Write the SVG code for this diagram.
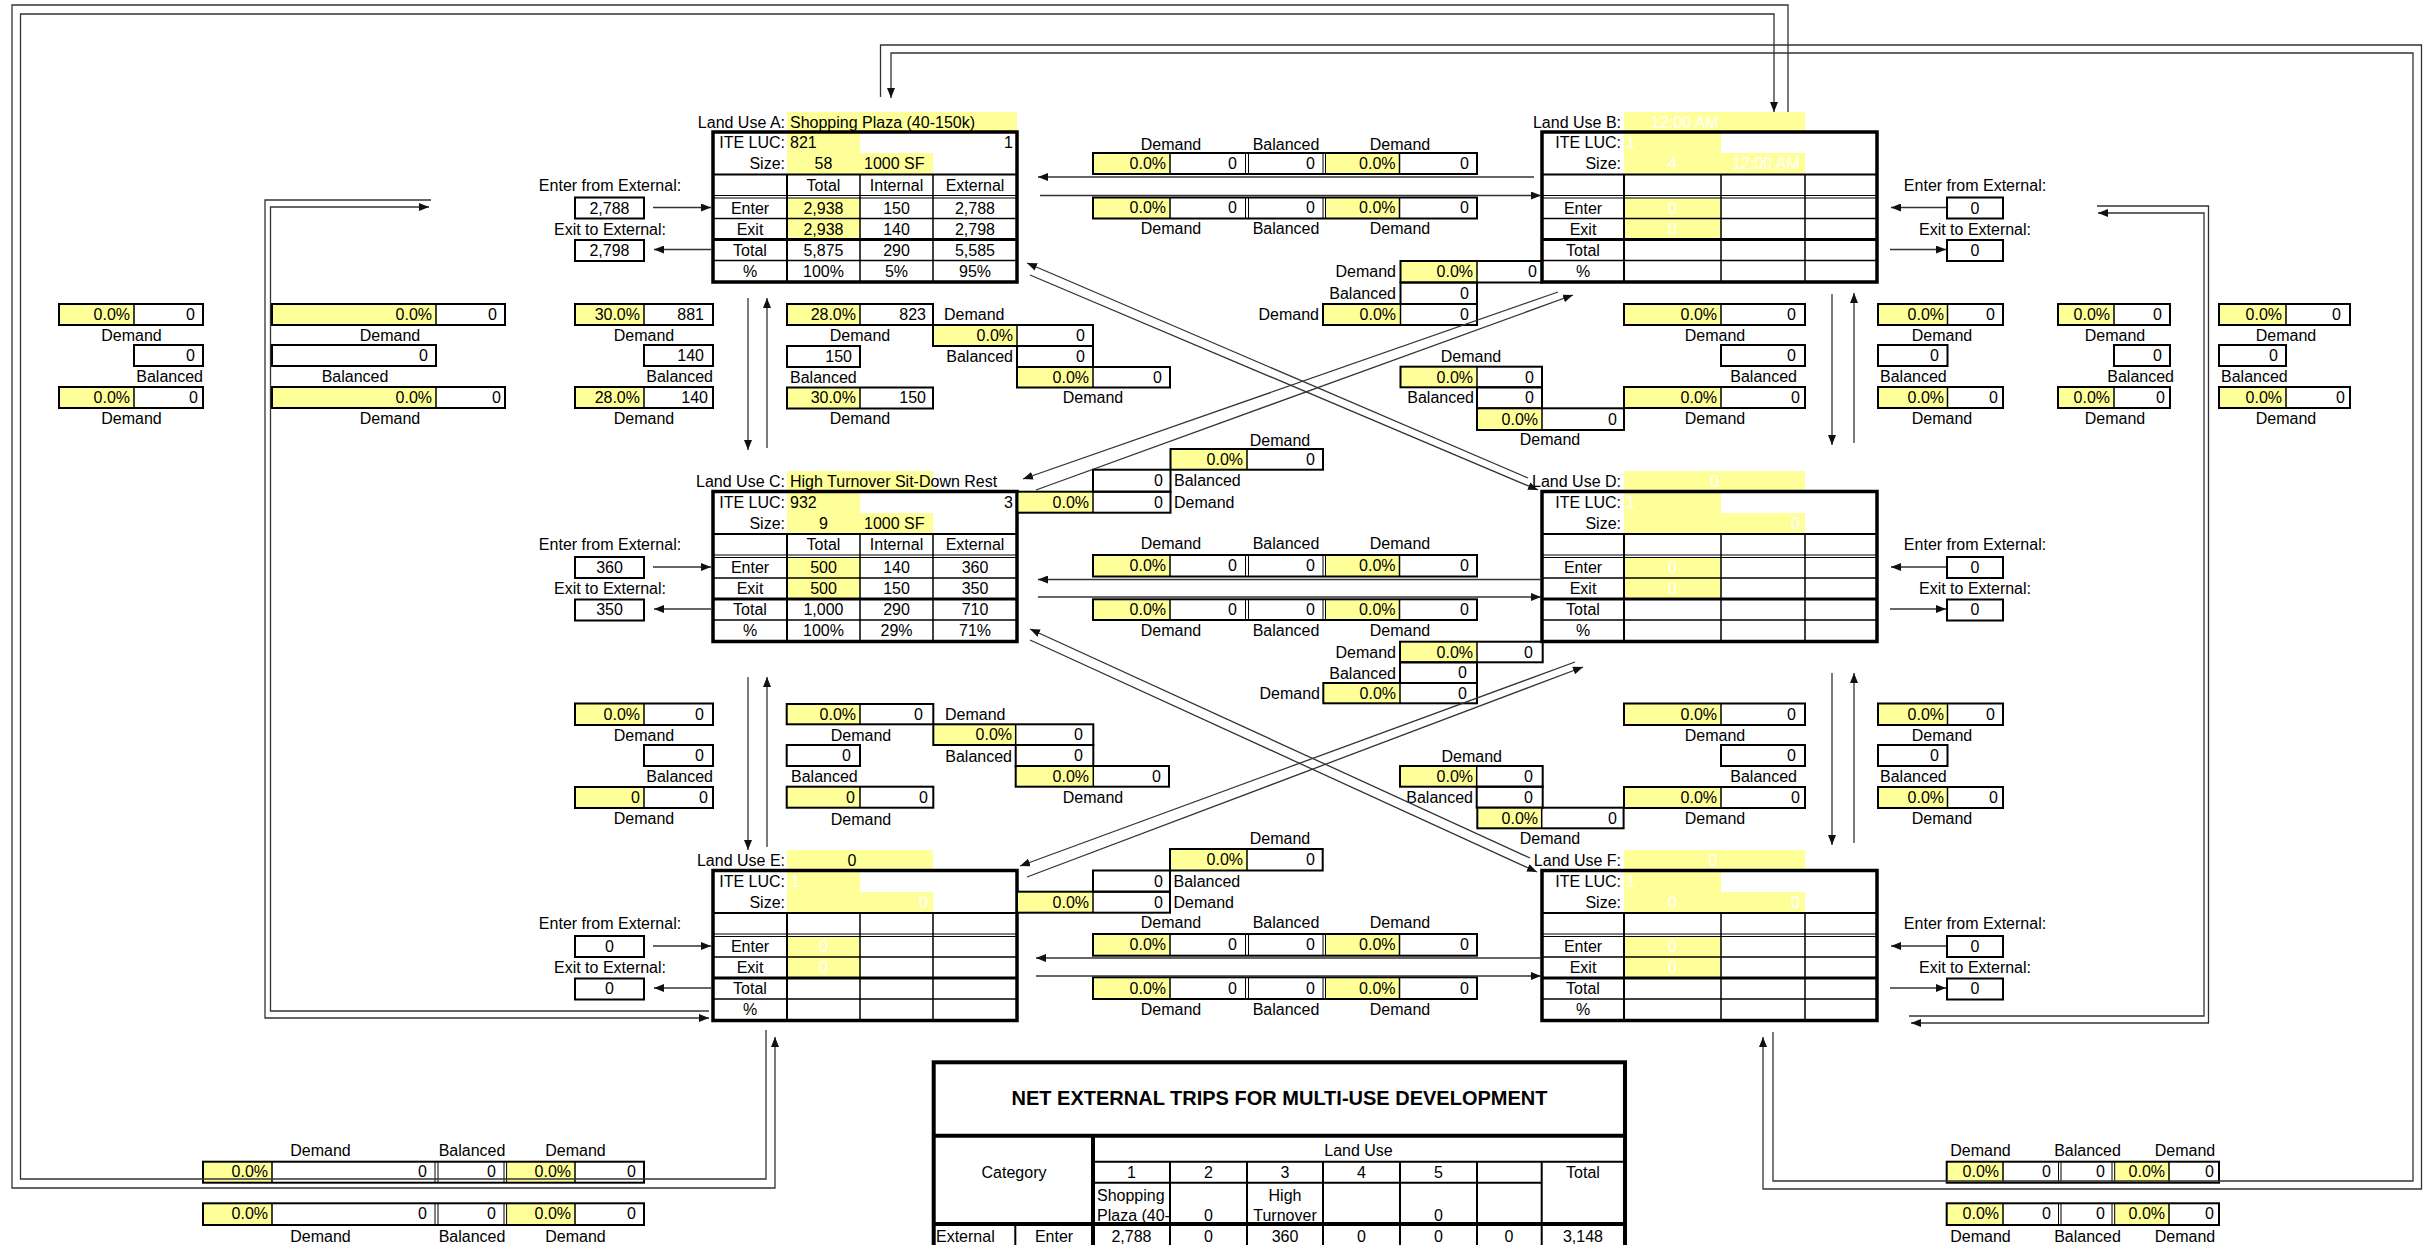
<svg xmlns="http://www.w3.org/2000/svg" width="2426" height="1245" viewBox="0 0 2426 1245">
<defs>
<marker id="ah" viewBox="0 0 10 8" refX="10" refY="4" markerWidth="10" markerHeight="8" markerUnits="userSpaceOnUse" orient="auto"><path d="M0,0 L10,4 L0,8 z" fill="#111"/></marker>
<clipPath id="clipShop"><rect x="1093" y="1183" width="77" height="41"/></clipPath>
</defs>
<style>
text{font-family:'Liberation Sans',Arial,Helvetica,sans-serif;font-size:16px;fill:#000}
.m{text-anchor:middle}
.e{text-anchor:end}
.w{fill:#fff}
.y{fill:#ffff99}
.bx{fill:none;stroke:#000;stroke-width:2}
.ln{stroke:#000;stroke-width:1.5}
.dl{stroke:#000;stroke-width:1}
.ol{fill:none;stroke:#000;stroke-width:3.5}
.l2{stroke:#000;stroke-width:2}
.l3{stroke:#000;stroke-width:3}
.l4{stroke:#000;stroke-width:4}
.cn{fill:none;stroke:#333;stroke-width:1.3}
.ar{marker-end:url(#ah)}
.ttl{font-weight:bold;font-size:20px}
</style>
<rect width="2426" height="1245" fill="#fff"/>

<!-- ================= LAND USE TABLES ================= -->
<g id="landuse-A">
<rect class="y" x="787" y="112" width="230" height="20"/>
<rect class="y" x="787" y="133" width="73" height="20"/>
<rect class="y" x="787" y="153" width="146" height="21"/>
<rect class="y" x="787" y="198" width="73" height="41"/>
<rect class="ol" x="713" y="132" width="304" height="150"/>
<line class="l2" x1="713" y1="174.5" x2="1017" y2="174.5"/>
<line class="l2" x1="787" y1="174.5" x2="787" y2="282"/>
<line class="ln" x1="860" y1="174.5" x2="860" y2="282"/>
<line class="ln" x1="933" y1="174.5" x2="933" y2="282"/>
<line class="dl" x1="713" y1="195.5" x2="1017" y2="195.5"/>
<line class="dl" x1="713" y1="198" x2="1017" y2="198"/>
<line class="ln" x1="713" y1="218.5" x2="1017" y2="218.5"/>
<line class="l3" x1="713" y1="239.5" x2="1017" y2="239.5"/>
<line class="ln" x1="713" y1="260.5" x2="1017" y2="260.5"/>
<text class="e" x="785" y="127.5">Land Use A:</text>
<text x="790" y="127.5">Shopping Plaza (40-150k)</text>
<text class="e" x="785" y="148">ITE LUC:</text><text x="790" y="148">821</text><text class="e" x="1013" y="148">1</text>
<text class="e" x="785" y="169">Size:</text><text class="m" x="823.5" y="169">58</text><text x="864" y="169">1000 SF</text>
<text class="m" x="823.5" y="190.5">Total</text><text class="m" x="896.5" y="190.5">Internal</text><text class="m" x="975" y="190.5">External</text>
<text class="m" x="750" y="213.5">Enter</text><text class="m" x="823.5" y="213.5">2,938</text><text class="m" x="896.5" y="213.5">150</text><text class="m" x="975" y="213.5">2,788</text>
<text class="m" x="750" y="234.5">Exit</text><text class="m" x="823.5" y="234.5">2,938</text><text class="m" x="896.5" y="234.5">140</text><text class="m" x="975" y="234.5">2,798</text>
<text class="m" x="750" y="255.5">Total</text><text class="m" x="823.5" y="255.5">5,875</text><text class="m" x="896.5" y="255.5">290</text><text class="m" x="975" y="255.5">5,585</text>
<text class="m" x="750" y="276.5">%</text><text class="m" x="823.5" y="276.5">100%</text><text class="m" x="896.5" y="276.5">5%</text><text class="m" x="975" y="276.5">95%</text>
<text class="m" x="610" y="190.5">Enter from External:</text>
<rect class="bx" x="575" y="197.5" width="69" height="21"/><text class="m" x="609.5" y="213.5">2,788</text>
<text class="m" x="610" y="234.5">Exit to External:</text>
<rect class="bx" x="575" y="240" width="69" height="21"/><text class="m" x="609.5" y="255.5">2,798</text>
</g>

<g id="landuse-B">
<rect class="y" x="1624" y="112" width="181" height="20"/>
<rect class="y" x="1624" y="133" width="97" height="20"/>
<rect class="y" x="1624" y="153" width="181" height="21"/>
<rect class="y" x="1624" y="198" width="97" height="41"/>
<rect class="ol" x="1542" y="132" width="335" height="150"/>
<line class="l2" x1="1542" y1="174.5" x2="1877" y2="174.5"/>
<line class="l2" x1="1624" y1="174.5" x2="1624" y2="282"/>
<line class="ln" x1="1721" y1="174.5" x2="1721" y2="282"/>
<line class="ln" x1="1805" y1="174.5" x2="1805" y2="282"/>
<line class="dl" x1="1542" y1="195.5" x2="1877" y2="195.5"/>
<line class="dl" x1="1542" y1="198" x2="1877" y2="198"/>
<line class="ln" x1="1542" y1="218.5" x2="1877" y2="218.5"/>
<line class="l3" x1="1542" y1="239.5" x2="1877" y2="239.5"/>
<line class="ln" x1="1542" y1="260.5" x2="1877" y2="260.5"/>
<text class="e" x="1621" y="127.5">Land Use B:</text><text class="w" x="1651" y="127.5">12:00 AM</text>
<text class="e" x="1621" y="148">ITE LUC:</text><text class="w" x="1626" y="148">1</text>
<text class="e" x="1621" y="169">Size:</text><text class="m w" x="1672.5" y="169">4</text><text class="m w" x="1766" y="169">12:00 AM</text>
<text class="m" x="1583" y="213.5">Enter</text><text class="m w" x="1672.5" y="213.5">0</text>
<text class="m" x="1583" y="234.5">Exit</text><text class="m w" x="1672.5" y="234.5">0</text>
<text class="m" x="1583" y="255.5">Total</text>
<text class="m" x="1583" y="276.5">%</text>
<text class="m" x="1975" y="190.5">Enter from External:</text>
<rect class="bx" x="1947" y="197.5" width="56" height="21"/><text class="m" x="1975" y="213.5">0</text>
<text class="m" x="1975" y="234.5">Exit to External:</text>
<rect class="bx" x="1947" y="240" width="56" height="21"/><text class="m" x="1975" y="255.5">0</text>
</g>

<g id="landuse-C">
<rect class="y" x="787" y="471" width="146" height="20.5"/>
<rect class="y" x="787" y="492.5" width="73" height="20.5"/>
<rect class="y" x="787" y="513" width="146" height="21"/>
<rect class="y" x="787" y="557.5" width="73" height="41"/>
<rect class="ol" x="713" y="491.5" width="304" height="150"/>
<line class="l2" x1="713" y1="534" x2="1017" y2="534"/>
<line class="l2" x1="787" y1="534" x2="787" y2="641.5"/>
<line class="ln" x1="860" y1="534" x2="860" y2="641.5"/>
<line class="ln" x1="933" y1="534" x2="933" y2="641.5"/>
<line class="dl" x1="713" y1="555" x2="1017" y2="555"/>
<line class="dl" x1="713" y1="557.5" x2="1017" y2="557.5"/>
<line class="ln" x1="713" y1="578" x2="1017" y2="578"/>
<line class="l3" x1="713" y1="599" x2="1017" y2="599"/>
<line class="ln" x1="713" y1="620" x2="1017" y2="620"/>
<text class="e" x="785" y="487">Land Use C:</text><text x="790" y="487">High Turnover Sit-Down Rest</text>
<text class="e" x="785" y="507.5">ITE LUC:</text><text x="790" y="507.5">932</text><text class="e" x="1013" y="507.5">3</text>
<text class="e" x="785" y="528.5">Size:</text><text class="m" x="823.5" y="528.5">9</text><text x="864" y="528.5">1000 SF</text>
<text class="m" x="823.5" y="550">Total</text><text class="m" x="896.5" y="550">Internal</text><text class="m" x="975" y="550">External</text>
<text class="m" x="750" y="573">Enter</text><text class="m" x="823.5" y="573">500</text><text class="m" x="896.5" y="573">140</text><text class="m" x="975" y="573">360</text>
<text class="m" x="750" y="594">Exit</text><text class="m" x="823.5" y="594">500</text><text class="m" x="896.5" y="594">150</text><text class="m" x="975" y="594">350</text>
<text class="m" x="750" y="615">Total</text><text class="m" x="823.5" y="615">1,000</text><text class="m" x="896.5" y="615">290</text><text class="m" x="975" y="615">710</text>
<text class="m" x="750" y="636">%</text><text class="m" x="823.5" y="636">100%</text><text class="m" x="896.5" y="636">29%</text><text class="m" x="975" y="636">71%</text>
<text class="m" x="610" y="550">Enter from External:</text>
<rect class="bx" x="575" y="557" width="69" height="21"/><text class="m" x="609.5" y="573">360</text>
<text class="m" x="610" y="594">Exit to External:</text>
<rect class="bx" x="575" y="599.5" width="69" height="21"/><text class="m" x="609.5" y="615">350</text>
</g>

<g id="landuse-D">
<rect class="y" x="1624" y="471" width="181" height="20.5"/>
<rect class="y" x="1624" y="492.5" width="97" height="20.5"/>
<rect class="y" x="1624" y="513" width="181" height="21"/>
<rect class="y" x="1624" y="557.5" width="97" height="41"/>
<rect class="ol" x="1542" y="491.5" width="335" height="150"/>
<line class="l2" x1="1542" y1="534" x2="1877" y2="534"/>
<line class="l2" x1="1624" y1="534" x2="1624" y2="641.5"/>
<line class="ln" x1="1721" y1="534" x2="1721" y2="641.5"/>
<line class="ln" x1="1805" y1="534" x2="1805" y2="641.5"/>
<line class="dl" x1="1542" y1="555" x2="1877" y2="555"/>
<line class="dl" x1="1542" y1="557.5" x2="1877" y2="557.5"/>
<line class="ln" x1="1542" y1="578" x2="1877" y2="578"/>
<line class="l3" x1="1542" y1="599" x2="1877" y2="599"/>
<line class="ln" x1="1542" y1="620" x2="1877" y2="620"/>
<text class="e" x="1621" y="487">Land Use D:</text><text class="m w" x="1714.5" y="487">0</text>
<text class="e" x="1621" y="507.5">ITE LUC:</text><text class="w" x="1626" y="507.5">1</text>
<text class="e" x="1621" y="528.5">Size:</text><text class="e w" x="1800" y="528.5">0</text>
<text class="m" x="1583" y="573">Enter</text><text class="m w" x="1672.5" y="573">0</text>
<text class="m" x="1583" y="594">Exit</text><text class="m w" x="1672.5" y="594">0</text>
<text class="m" x="1583" y="615">Total</text>
<text class="m" x="1583" y="636">%</text>
<text class="m" x="1975" y="550">Enter from External:</text>
<rect class="bx" x="1947" y="557" width="56" height="21"/><text class="m" x="1975" y="573">0</text>
<text class="m" x="1975" y="594">Exit to External:</text>
<rect class="bx" x="1947" y="599.5" width="56" height="21"/><text class="m" x="1975" y="615">0</text>
</g>

<g id="landuse-E">
<rect class="y" x="787" y="850" width="146" height="20.5"/>
<rect class="y" x="787" y="871.5" width="73" height="20.5"/>
<rect class="y" x="787" y="892" width="146" height="21"/>
<rect class="y" x="787" y="936.5" width="73" height="41"/>
<rect class="ol" x="713" y="870.5" width="304" height="150"/>
<line class="l2" x1="713" y1="913" x2="1017" y2="913"/>
<line class="l2" x1="787" y1="913" x2="787" y2="1020.5"/>
<line class="ln" x1="860" y1="913" x2="860" y2="1020.5"/>
<line class="ln" x1="933" y1="913" x2="933" y2="1020.5"/>
<line class="dl" x1="713" y1="934" x2="1017" y2="934"/>
<line class="dl" x1="713" y1="936.5" x2="1017" y2="936.5"/>
<line class="ln" x1="713" y1="957" x2="1017" y2="957"/>
<line class="l3" x1="713" y1="978" x2="1017" y2="978"/>
<line class="ln" x1="713" y1="999" x2="1017" y2="999"/>
<text class="e" x="785" y="866">Land Use E:</text><text class="m" x="852" y="866">0</text>
<text class="e" x="785" y="886.5">ITE LUC:</text><text class="w" x="791" y="886.5">1</text>
<text class="e" x="785" y="907.5">Size:</text><text class="e w" x="928" y="907.5">0</text>
<text class="m" x="750" y="952">Enter</text><text class="m w" x="823.5" y="952">0</text>
<text class="m" x="750" y="973">Exit</text><text class="m w" x="823.5" y="973">0</text>
<text class="m" x="750" y="994">Total</text>
<text class="m" x="750" y="1015">%</text>
<text class="m" x="610" y="929">Enter from External:</text>
<rect class="bx" x="575" y="936" width="69" height="21"/><text class="m" x="609.5" y="952">0</text>
<text class="m" x="610" y="973">Exit to External:</text>
<rect class="bx" x="575" y="978.5" width="69" height="21"/><text class="m" x="609.5" y="994">0</text>
</g>

<g id="landuse-F">
<rect class="y" x="1624" y="850" width="181" height="20.5"/>
<rect class="y" x="1624" y="871.5" width="97" height="20.5"/>
<rect class="y" x="1624" y="892" width="181" height="21"/>
<rect class="y" x="1624" y="936.5" width="97" height="41"/>
<rect class="ol" x="1542" y="870.5" width="335" height="150"/>
<line class="l2" x1="1542" y1="913" x2="1877" y2="913"/>
<line class="l2" x1="1624" y1="913" x2="1624" y2="1020.5"/>
<line class="ln" x1="1721" y1="913" x2="1721" y2="1020.5"/>
<line class="ln" x1="1805" y1="913" x2="1805" y2="1020.5"/>
<line class="dl" x1="1542" y1="934" x2="1877" y2="934"/>
<line class="dl" x1="1542" y1="936.5" x2="1877" y2="936.5"/>
<line class="ln" x1="1542" y1="957" x2="1877" y2="957"/>
<line class="l3" x1="1542" y1="978" x2="1877" y2="978"/>
<line class="ln" x1="1542" y1="999" x2="1877" y2="999"/>
<text class="e" x="1621" y="866">Land Use F:</text><text class="m w" x="1713" y="866">0</text>
<text class="e" x="1621" y="886.5">ITE LUC:</text><text class="w" x="1626" y="886.5">1</text>
<text class="e" x="1621" y="907.5">Size:</text><text class="m w" x="1672.5" y="907.5">0</text><text class="e w" x="1800" y="907.5">0</text>
<text class="m" x="1583" y="952">Enter</text><text class="m w" x="1672.5" y="952">0</text>
<text class="m" x="1583" y="973">Exit</text><text class="m w" x="1672.5" y="973">0</text>
<text class="m" x="1583" y="994">Total</text>
<text class="m" x="1583" y="1015">%</text>
<text class="m" x="1975" y="929">Enter from External:</text>
<rect class="bx" x="1947" y="936" width="56" height="21"/><text class="m" x="1975" y="952">0</text>
<text class="m" x="1975" y="973">Exit to External:</text>
<rect class="bx" x="1947" y="978.5" width="56" height="21"/><text class="m" x="1975" y="994">0</text>
</g>

<!-- ================= HORIZONTAL PAIR GROUPS ================= -->
<g id="grp-AB">
<text class="m" x="1171" y="150">Demand</text><text class="m" x="1286" y="150">Balanced</text><text class="m" x="1400" y="150">Demand</text>
<rect class="y" x="1093" y="153" width="77" height="21"/><rect class="y" x="1325.5" y="153" width="74" height="21"/>
<rect class="bx" x="1093" y="153" width="384" height="21"/>
<line class="ln" x1="1170" y1="153" x2="1170" y2="174"/><line class="dl" x1="1245.5" y1="153" x2="1245.5" y2="174"/><line class="dl" x1="1248.5" y1="153" x2="1248.5" y2="174"/><line class="dl" x1="1323" y1="153" x2="1323" y2="174"/><line class="dl" x1="1325.5" y1="153" x2="1325.5" y2="174"/><line class="ln" x1="1399.5" y1="153" x2="1399.5" y2="174"/>
<text class="e" x="1166" y="168.5">0.0%</text><text class="e" x="1237" y="168.5">0</text><text class="e" x="1315" y="168.5">0</text><text class="e" x="1395.5" y="168.5">0.0%</text><text class="e" x="1469" y="168.5">0</text>
<rect class="y" x="1093" y="197.5" width="77" height="21"/><rect class="y" x="1325.5" y="197.5" width="74" height="21"/>
<rect class="bx" x="1093" y="197.5" width="384" height="21"/>
<line class="ln" x1="1170" y1="197.5" x2="1170" y2="218.5"/><line class="dl" x1="1245.5" y1="197.5" x2="1245.5" y2="218.5"/><line class="dl" x1="1248.5" y1="197.5" x2="1248.5" y2="218.5"/><line class="dl" x1="1323" y1="197.5" x2="1323" y2="218.5"/><line class="dl" x1="1325.5" y1="197.5" x2="1325.5" y2="218.5"/><line class="ln" x1="1399.5" y1="197.5" x2="1399.5" y2="218.5"/>
<text class="e" x="1166" y="213">0.0%</text><text class="e" x="1237" y="213">0</text><text class="e" x="1315" y="213">0</text><text class="e" x="1395.5" y="213">0.0%</text><text class="e" x="1469" y="213">0</text>
<text class="m" x="1171" y="234">Demand</text><text class="m" x="1286" y="234">Balanced</text><text class="m" x="1400" y="234">Demand</text>
</g>

<g id="grp-CD">
<text class="m" x="1171" y="549">Demand</text><text class="m" x="1286" y="549">Balanced</text><text class="m" x="1400" y="549">Demand</text>
<rect class="y" x="1093" y="555" width="77" height="21.5"/><rect class="y" x="1325.5" y="555" width="74" height="21.5"/>
<rect class="bx" x="1093" y="555" width="384" height="21.5"/>
<line class="ln" x1="1170" y1="555" x2="1170" y2="576.5"/><line class="dl" x1="1245.5" y1="555" x2="1245.5" y2="576.5"/><line class="dl" x1="1248.5" y1="555" x2="1248.5" y2="576.5"/><line class="dl" x1="1323" y1="555" x2="1323" y2="576.5"/><line class="dl" x1="1325.5" y1="555" x2="1325.5" y2="576.5"/><line class="ln" x1="1399.5" y1="555" x2="1399.5" y2="576.5"/>
<text class="e" x="1166" y="571">0.0%</text><text class="e" x="1237" y="571">0</text><text class="e" x="1315" y="571">0</text><text class="e" x="1395.5" y="571">0.0%</text><text class="e" x="1469" y="571">0</text>
<rect class="y" x="1093" y="599.3" width="77" height="20.7"/><rect class="y" x="1325.5" y="599.3" width="74" height="20.7"/>
<rect class="bx" x="1093" y="599.3" width="384" height="20.7"/>
<line class="ln" x1="1170" y1="599.3" x2="1170" y2="620"/><line class="dl" x1="1245.5" y1="599.3" x2="1245.5" y2="620"/><line class="dl" x1="1248.5" y1="599.3" x2="1248.5" y2="620"/><line class="dl" x1="1323" y1="599.3" x2="1323" y2="620"/><line class="dl" x1="1325.5" y1="599.3" x2="1325.5" y2="620"/><line class="ln" x1="1399.5" y1="599.3" x2="1399.5" y2="620"/>
<text class="e" x="1166" y="615">0.0%</text><text class="e" x="1237" y="615">0</text><text class="e" x="1315" y="615">0</text><text class="e" x="1395.5" y="615">0.0%</text><text class="e" x="1469" y="615">0</text>
<text class="m" x="1171" y="635.5">Demand</text><text class="m" x="1286" y="635.5">Balanced</text><text class="m" x="1400" y="635.5">Demand</text>
</g>

<g id="grp-EF">
<text class="m" x="1171" y="928">Demand</text><text class="m" x="1286" y="928">Balanced</text><text class="m" x="1400" y="928">Demand</text>
<rect class="y" x="1093" y="934" width="77" height="21.7"/><rect class="y" x="1325.5" y="934" width="74" height="21.7"/>
<rect class="bx" x="1093" y="934" width="384" height="21.7"/>
<line class="ln" x1="1170" y1="934" x2="1170" y2="955.7"/><line class="dl" x1="1245.5" y1="934" x2="1245.5" y2="955.7"/><line class="dl" x1="1248.5" y1="934" x2="1248.5" y2="955.7"/><line class="dl" x1="1323" y1="934" x2="1323" y2="955.7"/><line class="dl" x1="1325.5" y1="934" x2="1325.5" y2="955.7"/><line class="ln" x1="1399.5" y1="934" x2="1399.5" y2="955.7"/>
<text class="e" x="1166" y="950">0.0%</text><text class="e" x="1237" y="950">0</text><text class="e" x="1315" y="950">0</text><text class="e" x="1395.5" y="950">0.0%</text><text class="e" x="1469" y="950">0</text>
<rect class="y" x="1093" y="977.3" width="77" height="21.7"/><rect class="y" x="1325.5" y="977.3" width="74" height="21.7"/>
<rect class="bx" x="1093" y="977.3" width="384" height="21.7"/>
<line class="ln" x1="1170" y1="977.3" x2="1170" y2="999"/><line class="dl" x1="1245.5" y1="977.3" x2="1245.5" y2="999"/><line class="dl" x1="1248.5" y1="977.3" x2="1248.5" y2="999"/><line class="dl" x1="1323" y1="977.3" x2="1323" y2="999"/><line class="dl" x1="1325.5" y1="977.3" x2="1325.5" y2="999"/><line class="ln" x1="1399.5" y1="977.3" x2="1399.5" y2="999"/>
<text class="e" x="1166" y="993.5">0.0%</text><text class="e" x="1237" y="993.5">0</text><text class="e" x="1315" y="993.5">0</text><text class="e" x="1395.5" y="993.5">0.0%</text><text class="e" x="1469" y="993.5">0</text>
<text class="m" x="1171" y="1014.5">Demand</text><text class="m" x="1286" y="1014.5">Balanced</text><text class="m" x="1400" y="1014.5">Demand</text>
</g>

<!-- ================= LEFT / RIGHT VERTICAL GROUPS ================= -->
<g id="grp-L1">
<rect class="y" x="59" y="304" width="75" height="21"/><rect class="bx" x="59" y="304" width="144" height="21"/><line class="ln" x1="134" y1="304" x2="134" y2="325"/>
<text class="e" x="130" y="319.5">0.0%</text><text class="e" x="195" y="319.5">0</text>
<text class="m" x="131.5" y="340.5">Demand</text>
<rect class="bx" x="134" y="345" width="69" height="21"/><text class="e" x="195" y="360.5">0</text>
<text class="e" x="203" y="382">Balanced</text>
<rect class="y" x="59" y="387" width="75" height="21"/><rect class="bx" x="59" y="387" width="144" height="21"/><line class="ln" x1="134" y1="387" x2="134" y2="408"/>
<text class="e" x="130" y="402.5">0.0%</text><text class="e" x="198" y="402.5">0</text>
<text class="m" x="131.5" y="423.5">Demand</text>
</g>
<g id="grp-L2">
<rect class="y" x="272" y="304" width="164" height="21"/><rect class="bx" x="272" y="304" width="233" height="21"/><line class="ln" x1="436" y1="304" x2="436" y2="325"/>
<text class="e" x="432" y="319.5">0.0%</text><text class="e" x="497" y="319.5">0</text>
<text class="m" x="390" y="340.5">Demand</text>
<rect class="bx" x="272" y="345" width="164" height="21"/><text class="e" x="428" y="360.5">0</text>
<text class="m" x="355" y="382">Balanced</text>
<rect class="y" x="272" y="387" width="164" height="21"/><rect class="bx" x="272" y="387" width="233" height="21"/><line class="ln" x1="436" y1="387" x2="436" y2="408"/>
<text class="e" x="432" y="402.5">0.0%</text><text class="e" x="501" y="402.5">0</text>
<text class="m" x="390" y="423.5">Demand</text>
</g>
<g id="grp-L3">
<rect class="y" x="575" y="304" width="69" height="21"/><rect class="bx" x="575" y="304" width="138" height="21"/><line class="ln" x1="644" y1="304" x2="644" y2="325"/>
<text class="e" x="640" y="319.5">30.0%</text><text class="e" x="704" y="319.5">881</text>
<text class="m" x="644" y="340.5">Demand</text>
<rect class="bx" x="644" y="345" width="69" height="21"/><text class="e" x="704" y="360.5">140</text>
<text class="e" x="713" y="382">Balanced</text>
<rect class="y" x="575" y="387" width="69" height="21"/><rect class="bx" x="575" y="387" width="138" height="21"/><line class="ln" x1="644" y1="387" x2="644" y2="408"/>
<text class="e" x="640" y="402.5">28.0%</text><text class="e" x="708" y="402.5">140</text>
<text class="m" x="644" y="423.5">Demand</text>
</g>
<g id="grp-R1">
<rect class="y" x="1624" y="304" width="97" height="21"/><rect class="bx" x="1624" y="304" width="181" height="21"/><line class="ln" x1="1721" y1="304" x2="1721" y2="325"/>
<text class="e" x="1717" y="319.5">0.0%</text><text class="e" x="1796" y="319.5">0</text>
<text class="m" x="1715" y="340.5">Demand</text>
<rect class="bx" x="1721" y="345" width="84" height="21"/><text class="e" x="1796" y="360.5">0</text>
<text class="e" x="1797" y="382">Balanced</text>
<rect class="y" x="1624" y="387" width="97" height="21"/><rect class="bx" x="1624" y="387" width="181" height="21"/><line class="ln" x1="1721" y1="387" x2="1721" y2="408"/>
<text class="e" x="1717" y="402.5">0.0%</text><text class="e" x="1800" y="402.5">0</text>
<text class="m" x="1715" y="423.5">Demand</text>
</g>
<g id="grp-R2">
<rect class="y" x="1878" y="304" width="69.5" height="21"/><rect class="bx" x="1878" y="304" width="125" height="21"/><line class="ln" x1="1947.5" y1="304" x2="1947.5" y2="325"/>
<text class="e" x="1944" y="319.5">0.0%</text><text class="e" x="1995" y="319.5">0</text>
<text class="m" x="1942" y="340.5">Demand</text>
<rect class="bx" x="1878" y="345" width="69.5" height="21"/><text class="e" x="1939" y="360.5">0</text>
<text x="1880" y="382">Balanced</text>
<rect class="y" x="1878" y="387" width="69.5" height="21"/><rect class="bx" x="1878" y="387" width="125" height="21"/><line class="ln" x1="1947.5" y1="387" x2="1947.5" y2="408"/>
<text class="e" x="1944" y="402.5">0.0%</text><text class="e" x="1998" y="402.5">0</text>
<text class="m" x="1942" y="423.5">Demand</text>
</g>
<g id="grp-R3">
<rect class="y" x="2058" y="304" width="56" height="21"/><rect class="bx" x="2058" y="304" width="112" height="21"/><line class="ln" x1="2114" y1="304" x2="2114" y2="325"/>
<text class="e" x="2110" y="319.5">0.0%</text><text class="e" x="2162" y="319.5">0</text>
<text class="m" x="2115" y="340.5">Demand</text>
<rect class="bx" x="2114" y="345" width="56" height="21"/><text class="e" x="2162" y="360.5">0</text>
<text class="e" x="2174" y="382">Balanced</text>
<rect class="y" x="2058" y="387" width="56" height="21"/><rect class="bx" x="2058" y="387" width="112" height="21"/><line class="ln" x1="2114" y1="387" x2="2114" y2="408"/>
<text class="e" x="2110" y="402.5">0.0%</text><text class="e" x="2165" y="402.5">0</text>
<text class="m" x="2115" y="423.5">Demand</text>
</g>
<g id="grp-R4">
<rect class="y" x="2219" y="304" width="67" height="21"/><rect class="bx" x="2219" y="304" width="131" height="21"/><line class="ln" x1="2286" y1="304" x2="2286" y2="325"/>
<text class="e" x="2282" y="319.5">0.0%</text><text class="e" x="2341" y="319.5">0</text>
<text class="m" x="2286" y="340.5">Demand</text>
<rect class="bx" x="2219" y="345" width="67" height="21"/><text class="e" x="2278" y="360.5">0</text>
<text x="2221" y="382">Balanced</text>
<rect class="y" x="2219" y="387" width="67" height="21"/><rect class="bx" x="2219" y="387" width="131" height="21"/><line class="ln" x1="2286" y1="387" x2="2286" y2="408"/>
<text class="e" x="2282" y="402.5">0.0%</text><text class="e" x="2345" y="402.5">0</text>
<text class="m" x="2286" y="423.5">Demand</text>
</g>
<g id="grp-L4">
<rect class="y" x="575" y="703.5" width="69" height="21.5"/><rect class="bx" x="575" y="703.5" width="138" height="21.5"/><line class="ln" x1="644" y1="703.5" x2="644" y2="725"/>
<text class="e" x="640" y="719.5">0.0%</text><text class="e" x="704" y="719.5">0</text>
<text class="m" x="644" y="740.5">Demand</text>
<rect class="bx" x="644" y="745" width="69" height="21"/><text class="e" x="704" y="760.5">0</text>
<text class="e" x="713" y="782">Balanced</text>
<rect class="y" x="575" y="787" width="69" height="21"/><rect class="bx" x="575" y="787" width="138" height="21"/><line class="ln" x1="644" y1="787" x2="644" y2="808"/>
<text class="e" x="640" y="802.5">0</text><text class="e" x="708" y="802.5">0</text>
<text class="m" x="644" y="823.5">Demand</text>
</g>
<g id="grp-R5">
<rect class="y" x="1624" y="703.5" width="97" height="21.5"/><rect class="bx" x="1624" y="703.5" width="181" height="21.5"/><line class="ln" x1="1721" y1="703.5" x2="1721" y2="725"/>
<text class="e" x="1717" y="719.5">0.0%</text><text class="e" x="1796" y="719.5">0</text>
<text class="m" x="1715" y="740.5">Demand</text>
<rect class="bx" x="1721" y="745" width="84" height="21"/><text class="e" x="1796" y="760.5">0</text>
<text class="e" x="1797" y="782">Balanced</text>
<rect class="y" x="1624" y="787" width="97" height="21"/><rect class="bx" x="1624" y="787" width="181" height="21"/><line class="ln" x1="1721" y1="787" x2="1721" y2="808"/>
<text class="e" x="1717" y="802.5">0.0%</text><text class="e" x="1800" y="802.5">0</text>
<text class="m" x="1715" y="823.5">Demand</text>
</g>
<g id="grp-R6">
<rect class="y" x="1878" y="703.5" width="69.5" height="21.5"/><rect class="bx" x="1878" y="703.5" width="125" height="21.5"/><line class="ln" x1="1947.5" y1="703.5" x2="1947.5" y2="725"/>
<text class="e" x="1944" y="719.5">0.0%</text><text class="e" x="1995" y="719.5">0</text>
<text class="m" x="1942" y="740.5">Demand</text>
<rect class="bx" x="1878" y="745" width="69.5" height="21"/><text class="e" x="1939" y="760.5">0</text>
<text x="1880" y="782">Balanced</text>
<rect class="y" x="1878" y="787" width="69.5" height="21"/><rect class="bx" x="1878" y="787" width="125" height="21"/><line class="ln" x1="1947.5" y1="787" x2="1947.5" y2="808"/>
<text class="e" x="1944" y="802.5">0.0%</text><text class="e" x="1998" y="802.5">0</text>
<text class="m" x="1942" y="823.5">Demand</text>
</g>

<!-- ================= STAIRCASE GROUPS (middle) ================= -->
<g id="grp-A-int">
<rect class="y" x="787" y="304" width="73" height="21"/><rect class="bx" x="787" y="304" width="146" height="21"/><line class="ln" x1="860" y1="304" x2="860" y2="325"/>
<text class="e" x="856" y="319.5">28.0%</text><text class="e" x="926" y="319.5">823</text>
<text x="944" y="319.5">Demand</text>
<rect class="y" x="933" y="325" width="84" height="21"/><rect class="bx" x="933" y="325" width="160" height="21"/><line class="ln" x1="1017" y1="325" x2="1017" y2="346"/>
<text class="e" x="1013" y="340.5">0.0%</text><text class="e" x="1085" y="340.5">0</text>
<text class="m" x="860" y="341">Demand</text>
<rect class="bx" x="787" y="346" width="73" height="21"/><text class="e" x="852" y="361.5">150</text>
<text class="e" x="1013" y="362">Balanced</text>
<rect class="bx" x="1017" y="346" width="76" height="21"/><text class="e" x="1085" y="361.5">0</text>
<text x="790" y="382.5">Balanced</text>
<rect class="y" x="1017" y="367" width="76" height="20.5"/><rect class="bx" x="1017" y="367" width="153" height="20.5"/><line class="ln" x1="1093" y1="367" x2="1093" y2="387.5"/>
<text class="e" x="1089" y="382.5">0.0%</text><text class="e" x="1162" y="382.5">0</text>
<rect class="y" x="787" y="387.5" width="73" height="21"/><rect class="bx" x="787" y="387.5" width="146" height="21"/><line class="ln" x1="860" y1="387.5" x2="860" y2="408.5"/>
<text class="e" x="856" y="403">30.0%</text><text class="e" x="926" y="403">150</text>
<text class="m" x="1093" y="403">Demand</text>
<text class="m" x="860" y="424">Demand</text>
</g>

<g id="grp-B-int">
<text class="e" x="1396" y="277">Demand</text>
<rect class="y" x="1400.5" y="261" width="76.5" height="21.5"/><rect class="bx" x="1400.5" y="261" width="141.5" height="21.5"/><line class="ln" x1="1477" y1="261" x2="1477" y2="282.5"/>
<text class="e" x="1473" y="277">0.0%</text><text class="e" x="1537" y="277">0</text>
<text class="e" x="1396" y="298.5">Balanced</text>
<rect class="bx" x="1400.5" y="282.5" width="76.5" height="21.5"/><text class="e" x="1469" y="298.5">0</text>
<text class="e" x="1319" y="320">Demand</text>
<rect class="y" x="1323" y="304" width="77.5" height="21"/><rect class="bx" x="1323" y="304" width="154" height="21"/><line class="ln" x1="1400.5" y1="304" x2="1400.5" y2="325"/>
<text class="e" x="1396" y="320">0.0%</text><text class="e" x="1469" y="320">0</text>
</g>

<g id="grp-D-int-top">
<text class="m" x="1471" y="362">Demand</text>
<rect class="y" x="1400.5" y="366.7" width="76.5" height="20.6"/><rect class="bx" x="1400.5" y="366.7" width="141.5" height="20.6"/><line class="ln" x1="1477" y1="366.7" x2="1477" y2="387.3"/>
<text class="e" x="1473" y="382.5">0.0%</text><text class="e" x="1534" y="382.5">0</text>
<text class="e" x="1474" y="403">Balanced</text>
<rect class="bx" x="1477" y="387.3" width="65" height="21"/><text class="e" x="1534" y="403">0</text>
<rect class="y" x="1477" y="408.3" width="65" height="21.7"/><rect class="bx" x="1477" y="408.3" width="147" height="21.7"/><line class="ln" x1="1542" y1="408.3" x2="1542" y2="430"/>
<text class="e" x="1538" y="424.5">0.0%</text><text class="e" x="1617" y="424.5">0</text>
<text class="m" x="1550" y="445">Demand</text>
</g>

<g id="grp-C-int-top">
<text class="m" x="1280" y="446">Demand</text>
<rect class="y" x="1170.5" y="449" width="76.5" height="20.7"/><rect class="bx" x="1170.5" y="449" width="152.5" height="20.7"/><line class="ln" x1="1247" y1="449" x2="1247" y2="469.7"/>
<text class="e" x="1243" y="465">0.0%</text><text class="e" x="1315" y="465">0</text>
<rect class="bx" x="1093" y="469.7" width="77.5" height="22"/><text class="e" x="1163" y="486">0</text>
<text x="1174" y="486">Balanced</text>
<rect class="y" x="1017.5" y="491.7" width="75.5" height="21"/><rect class="bx" x="1017.5" y="491.7" width="153" height="21"/><line class="ln" x1="1093" y1="491.7" x2="1093" y2="512.7"/>
<text class="e" x="1089" y="507.5">0.0%</text><text class="e" x="1163" y="507.5">0</text>
<text x="1174" y="507.5">Demand</text>
</g>

<g id="grp-D-int-bottom">
<text class="e" x="1396" y="658">Demand</text>
<rect class="y" x="1400" y="641.7" width="77" height="20.6"/><rect class="bx" x="1400" y="641.7" width="142.7" height="20.6"/><line class="ln" x1="1477" y1="641.7" x2="1477" y2="662.3"/>
<text class="e" x="1473" y="657.5">0.0%</text><text class="e" x="1533" y="657.5">0</text>
<text class="e" x="1396" y="678.5">Balanced</text>
<rect class="bx" x="1400" y="662.3" width="77" height="20.7"/><text class="e" x="1467" y="678">0</text>
<text class="e" x="1320" y="699">Demand</text>
<rect class="y" x="1323.3" y="683" width="76.7" height="20.3"/><rect class="bx" x="1323.3" y="683" width="153.7" height="20.3"/><line class="ln" x1="1400" y1="683" x2="1400" y2="703.3"/>
<text class="e" x="1396" y="698.5">0.0%</text><text class="e" x="1467" y="698.5">0</text>
</g>

<g id="grp-C-int-bottom">
<rect class="y" x="786.7" y="704" width="73.3" height="20.3"/><rect class="bx" x="786.7" y="704" width="146.6" height="20.3"/><line class="ln" x1="860" y1="704" x2="860" y2="724.3"/>
<text class="e" x="856" y="719.5">0.0%</text><text class="e" x="923" y="719.5">0</text>
<text x="945" y="719.5">Demand</text>
<text class="m" x="861" y="741">Demand</text>
<rect class="y" x="933.3" y="724.3" width="82.4" height="20.7"/><rect class="bx" x="933.3" y="724.3" width="160" height="20.7"/><line class="ln" x1="1015.7" y1="724.3" x2="1015.7" y2="745"/>
<text class="e" x="1012" y="740">0.0%</text><text class="e" x="1083" y="740">0</text>
<rect class="bx" x="786.7" y="745" width="73.3" height="21"/><text class="e" x="851" y="760.5">0</text>
<text class="e" x="1012" y="762">Balanced</text>
<rect class="bx" x="1015.7" y="745" width="77.6" height="21"/><text class="e" x="1083" y="760.5">0</text>
<text x="791" y="782">Balanced</text>
<rect class="y" x="1015.7" y="766" width="77.6" height="20.7"/><rect class="bx" x="1015.7" y="766" width="153.3" height="20.7"/><line class="ln" x1="1093.3" y1="766" x2="1093.3" y2="786.7"/>
<text class="e" x="1089" y="781.5">0.0%</text><text class="e" x="1161" y="781.5">0</text>
<rect class="y" x="786.7" y="786.7" width="73.3" height="21"/><rect class="bx" x="786.7" y="786.7" width="146.6" height="21"/><line class="ln" x1="860" y1="786.7" x2="860" y2="807.7"/>
<text class="e" x="855" y="802.5">0</text><text class="e" x="928" y="802.5">0</text>
<text class="m" x="1093" y="802.5">Demand</text>
<text class="m" x="861" y="824.5">Demand</text>
</g>

<g id="grp-F-int-top">
<text class="m" x="1471.7" y="762">Demand</text>
<rect class="y" x="1400" y="766" width="76.7" height="20.7"/><rect class="bx" x="1400" y="766" width="142.7" height="20.7"/><line class="ln" x1="1476.7" y1="766" x2="1476.7" y2="786.7"/>
<text class="e" x="1473" y="781.5">0.0%</text><text class="e" x="1533" y="781.5">0</text>
<text class="e" x="1473" y="803">Balanced</text>
<rect class="bx" x="1476.7" y="786.7" width="66" height="21"/><text class="e" x="1533" y="802.5">0</text>
<rect class="y" x="1477.3" y="807.7" width="64.4" height="20.6"/><rect class="bx" x="1477.3" y="807.7" width="146.3" height="20.6"/><line class="ln" x1="1541.7" y1="807.7" x2="1541.7" y2="828.3"/>
<text class="e" x="1538" y="823.5">0.0%</text><text class="e" x="1617" y="823.5">0</text>
<text class="m" x="1550" y="844">Demand</text>
</g>

<g id="grp-E-int-top">
<text class="m" x="1280" y="844">Demand</text>
<rect class="y" x="1170" y="849" width="77" height="21.5"/><rect class="bx" x="1170" y="849" width="152.7" height="21.5"/><line class="ln" x1="1247" y1="849" x2="1247" y2="870.5"/>
<text class="e" x="1243" y="865">0.0%</text><text class="e" x="1315" y="865">0</text>
<rect class="bx" x="1093" y="870.5" width="77" height="21.2"/><text class="e" x="1163" y="886.5">0</text>
<text x="1173.5" y="887">Balanced</text>
<rect class="y" x="1017" y="891.7" width="76" height="21"/><rect class="bx" x="1017" y="891.7" width="153" height="21"/><line class="ln" x1="1093" y1="891.7" x2="1093" y2="912.7"/>
<text class="e" x="1089" y="907.5">0.0%</text><text class="e" x="1163" y="907.5">0</text>
<text x="1173.5" y="907.5">Demand</text>
</g>

<!-- ================= BOTTOM PAIR GROUPS ================= -->
<g id="grp-bottom-left">
<text class="m" x="320.5" y="1155.5">Demand</text><text class="m" x="472" y="1155.5">Balanced</text><text class="m" x="575.5" y="1155.5">Demand</text>
<rect class="y" x="203" y="1161.7" width="69" height="21"/><rect class="y" x="506.6" y="1161.7" width="68.4" height="21"/>
<rect class="bx" x="203" y="1161.7" width="441" height="21"/>
<line class="ln" x1="272" y1="1161.7" x2="272" y2="1182.7"/><line class="dl" x1="435" y1="1161.7" x2="435" y2="1182.7"/><line class="dl" x1="438" y1="1161.7" x2="438" y2="1182.7"/><line class="dl" x1="504" y1="1161.7" x2="504" y2="1182.7"/><line class="dl" x1="506.6" y1="1161.7" x2="506.6" y2="1182.7"/><line class="ln" x1="575" y1="1161.7" x2="575" y2="1182.7"/>
<text class="e" x="268" y="1177">0.0%</text><text class="e" x="427" y="1177">0</text><text class="e" x="496" y="1177">0</text><text class="e" x="571" y="1177">0.0%</text><text class="e" x="636" y="1177">0</text>
<rect class="y" x="203" y="1203.3" width="69" height="21.7"/><rect class="y" x="506.6" y="1203.3" width="68.4" height="21.7"/>
<rect class="bx" x="203" y="1203.3" width="441" height="21.7"/>
<line class="ln" x1="272" y1="1203.3" x2="272" y2="1225"/><line class="dl" x1="435" y1="1203.3" x2="435" y2="1225"/><line class="dl" x1="438" y1="1203.3" x2="438" y2="1225"/><line class="dl" x1="504" y1="1203.3" x2="504" y2="1225"/><line class="dl" x1="506.6" y1="1203.3" x2="506.6" y2="1225"/><line class="ln" x1="575" y1="1203.3" x2="575" y2="1225"/>
<text class="e" x="268" y="1219">0.0%</text><text class="e" x="427" y="1219">0</text><text class="e" x="496" y="1219">0</text><text class="e" x="571" y="1219">0.0%</text><text class="e" x="636" y="1219">0</text>
<text class="m" x="320.5" y="1242">Demand</text><text class="m" x="472" y="1242">Balanced</text><text class="m" x="575.5" y="1242">Demand</text>
</g>

<g id="grp-bottom-right">
<text class="m" x="1980.5" y="1155.5">Demand</text><text class="m" x="2087.5" y="1155.5">Balanced</text><text class="m" x="2185" y="1155.5">Demand</text>
<rect class="y" x="1946.7" y="1161.7" width="56.3" height="21"/><rect class="y" x="2114.7" y="1161.7" width="54.3" height="21"/>
<rect class="bx" x="1946.7" y="1161.7" width="272.3" height="21"/>
<line class="ln" x1="2003" y1="1161.7" x2="2003" y2="1182.7"/><line class="dl" x1="2058.5" y1="1161.7" x2="2058.5" y2="1182.7"/><line class="dl" x1="2061" y1="1161.7" x2="2061" y2="1182.7"/><line class="dl" x1="2112" y1="1161.7" x2="2112" y2="1182.7"/><line class="dl" x1="2114.7" y1="1161.7" x2="2114.7" y2="1182.7"/><line class="ln" x1="2169" y1="1161.7" x2="2169" y2="1182.7"/>
<text class="e" x="1999" y="1177">0.0%</text><text class="e" x="2051" y="1177">0</text><text class="e" x="2105" y="1177">0</text><text class="e" x="2165" y="1177">0.0%</text><text class="e" x="2214" y="1177">0</text>
<rect class="y" x="1946.7" y="1203.3" width="56.3" height="21.7"/><rect class="y" x="2114.7" y="1203.3" width="54.3" height="21.7"/>
<rect class="bx" x="1946.7" y="1203.3" width="272.3" height="21.7"/>
<line class="ln" x1="2003" y1="1203.3" x2="2003" y2="1225"/><line class="dl" x1="2058.5" y1="1203.3" x2="2058.5" y2="1225"/><line class="dl" x1="2061" y1="1203.3" x2="2061" y2="1225"/><line class="dl" x1="2112" y1="1203.3" x2="2112" y2="1225"/><line class="dl" x1="2114.7" y1="1203.3" x2="2114.7" y2="1225"/><line class="ln" x1="2169" y1="1203.3" x2="2169" y2="1225"/>
<text class="e" x="1999" y="1219">0.0%</text><text class="e" x="2051" y="1219">0</text><text class="e" x="2105" y="1219">0</text><text class="e" x="2165" y="1219">0.0%</text><text class="e" x="2214" y="1219">0</text>
<text class="m" x="1980.5" y="1242">Demand</text><text class="m" x="2087.5" y="1242">Balanced</text><text class="m" x="2185" y="1242">Demand</text>
</g>

<!-- ================= NET EXTERNAL TRIPS TABLE ================= -->
<g id="net-external-table">
<rect x="933.7" y="1062.3" width="691.3" height="200" fill="none" stroke="#000" stroke-width="4"/>
<line class="l4" x1="933.7" y1="1135.7" x2="1625" y2="1135.7"/>
<line class="l4" x1="1093" y1="1135.7" x2="1093" y2="1250"/>
<line class="l2" x1="1093" y1="1161.7" x2="1625" y2="1161.7"/>
<line class="l2" x1="1093" y1="1182.7" x2="1541.7" y2="1182.7"/>
<line class="l2" x1="1170" y1="1161.7" x2="1170" y2="1250"/>
<line class="l2" x1="1247" y1="1161.7" x2="1247" y2="1250"/>
<line class="l2" x1="1323" y1="1161.7" x2="1323" y2="1250"/>
<line class="l2" x1="1400" y1="1161.7" x2="1400" y2="1250"/>
<line class="l2" x1="1477" y1="1161.7" x2="1477" y2="1250"/>
<line class="l2" x1="1541.7" y1="1161.7" x2="1541.7" y2="1250"/>
<line class="l4" x1="933.7" y1="1224" x2="1625" y2="1224"/>
<line class="l2" x1="1015.3" y1="1224" x2="1015.3" y2="1250"/>
<text class="m ttl" x="1279.5" y="1104.5">NET EXTERNAL TRIPS FOR MULTI-USE DEVELOPMENT</text>
<text class="m" x="1358.5" y="1156">Land Use</text>
<text class="m" x="1014" y="1178">Category</text>
<text class="m" x="1131.5" y="1178">1</text><text class="m" x="1208.5" y="1178">2</text><text class="m" x="1285" y="1178">3</text><text class="m" x="1361.5" y="1178">4</text><text class="m" x="1438.5" y="1178">5</text>
<text class="m" x="1583" y="1178">Total</text>
<text x="1097" y="1200.5" clip-path="url(#clipShop)">Shopping</text>
<text x="1097" y="1221" clip-path="url(#clipShop)">Plaza (40-</text>
<text class="m" x="1208.5" y="1221">0</text>
<text class="m" x="1285" y="1200.5">High</text><text class="m" x="1285" y="1221">Turnover</text>
<text class="m" x="1438.5" y="1221">0</text>
<text x="936" y="1242">External</text><text class="m" x="1054" y="1242">Enter</text>
<text class="m" x="1131.5" y="1242">2,788</text><text class="m" x="1208.5" y="1242">0</text><text class="m" x="1285" y="1242">360</text><text class="m" x="1361.5" y="1242">0</text><text class="m" x="1438.5" y="1242">0</text><text class="m" x="1509" y="1242">0</text><text class="m" x="1583" y="1242">3,148</text>
</g>

<!-- ================= CONNECTORS ================= -->
<g id="connectors" class="cn">
<line class="ar" x1="1534" y1="177" x2="1038" y2="177"/>
<line class="ar" x1="1040" y1="195.5" x2="1541" y2="195.5"/>
<line class="ar" x1="1541" y1="579.5" x2="1038" y2="579.5"/>
<line class="ar" x1="1038" y1="597" x2="1541" y2="597"/>
<line class="ar" x1="1541" y1="958" x2="1036" y2="958"/>
<line class="ar" x1="1036" y1="976" x2="1541" y2="976"/>
<line class="ar" x1="748" y1="298" x2="748" y2="450"/>
<line class="ar" x1="767" y1="448" x2="767" y2="298"/>
<line class="ar" x1="748" y1="677" x2="748" y2="850"/>
<line class="ar" x1="767" y1="847" x2="767" y2="677"/>
<line class="ar" x1="1832" y1="294" x2="1832" y2="445"/>
<line class="ar" x1="1854" y1="443" x2="1854" y2="293"/>
<line class="ar" x1="1832" y1="673" x2="1832" y2="845"/>
<line class="ar" x1="1854" y1="843" x2="1854" y2="673"/>
<line class="ar" x1="1528" y1="478" x2="1027" y2="263"/>
<line class="ar" x1="1030" y1="275" x2="1538" y2="490"/>
<line class="ar" x1="1558" y1="292" x2="1023" y2="479"/>
<line class="ar" x1="1036" y1="490" x2="1573" y2="295"/>
<line class="ar" x1="1530" y1="858" x2="1030" y2="629"/>
<line class="ar" x1="1030" y1="640" x2="1537" y2="872"/>
<line class="ar" x1="1575" y1="662" x2="1020" y2="866"/>
<line class="ar" x1="1027" y1="877" x2="1583" y2="667"/>
<line class="ar" x1="653" y1="207.5" x2="711" y2="207.5"/>
<line class="ar" x1="711" y1="249.5" x2="654" y2="249.5"/>
<line class="ar" x1="653" y1="567" x2="711" y2="567"/>
<line class="ar" x1="711" y1="609" x2="654" y2="609"/>
<line class="ar" x1="653" y1="946" x2="711" y2="946"/>
<line class="ar" x1="711" y1="988" x2="654" y2="988"/>
<line class="ar" x1="1946" y1="207.5" x2="1891" y2="207.5"/>
<line class="ar" x1="1890" y1="249.5" x2="1946" y2="249.5"/>
<line class="ar" x1="1946" y1="567" x2="1891" y2="567"/>
<line class="ar" x1="1890" y1="609" x2="1946" y2="609"/>
<line class="ar" x1="1946" y1="946" x2="1891" y2="946"/>
<line class="ar" x1="1890" y1="988" x2="1946" y2="988"/>
<path class="ar" d="M1788,112 V5 H12 V1188 H775 V1037"/>
<path class="ar" d="M766,1030 V1179 H20.5 V14 H1774 V112"/>
<path class="ar" d="M880.5,97 V45 H2421.5 V1189 H1763 V1037"/>
<path class="ar" d="M1773,1032 V1181 H2413 V53 H891 V98"/>
<path class="ar" d="M2097,206 H2208.5 V1023 H1911"/>
<path class="ar" d="M1909,1016 H2204 V213 H2098"/>
<path class="ar" d="M431,200 H265 V1018 H709"/>
<path class="ar" d="M709,1011 H270.5 V207 H429"/>
</g>
</svg>
